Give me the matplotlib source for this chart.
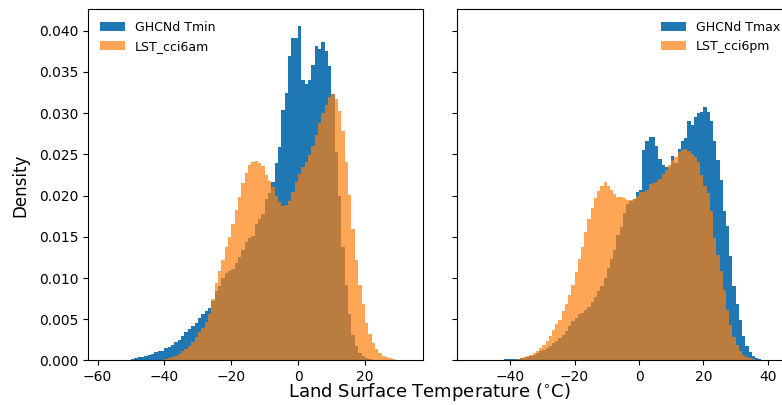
import numpy as np
import matplotlib
matplotlib.use('Agg')
import matplotlib.pyplot as plt

# densities per 1 degC bin
tmin_start = -52
tmin = [0.0001, 0.0001, 0.0002, 0.0003, 0.0004, 0.0004, 0.0006, 0.0007, 0.0008, 0.0010,
        0.0011, 0.0012, 0.0015, 0.0016, 0.0019, 0.0022, 0.0025, 0.0030, 0.0034, 0.0038,
        0.0042, 0.0046, 0.0051, 0.0056, 0.0060, 0.0064, 0.0072, 0.0084, 0.0090, 0.0100,
        0.0106, 0.0108, 0.0111, 0.0118, 0.0126, 0.0134, 0.0144, 0.0148, 0.0151, 0.0165,
        0.0172, 0.0178, 0.0196, 0.0203, 0.0216, 0.0239, 0.0259, 0.0304, 0.0324, 0.0369,
        0.0391, 0.0391, 0.0406, 0.0340, 0.0336, 0.0340, 0.0359, 0.0382, 0.0378, 0.0386,
        0.0376, 0.0357, 0.0323, 0.0253, 0.0200, 0.0138, 0.0092, 0.0056, 0.0031, 0.0017,
        0.0009, 0.0005, 0.0003, 0.0002, 0.0001]

lst_am_start = -42
lst_am = [0.0001, 0.0001, 0.0002, 0.0003, 0.0004, 0.0006, 0.0008, 0.0011, 0.0014, 0.0018,
          0.0023, 0.0028, 0.0034, 0.0040, 0.0047, 0.0056, 0.0075, 0.0094, 0.0108, 0.0122,
          0.0138, 0.0150, 0.0165, 0.0182, 0.0198, 0.0215, 0.0228, 0.0237, 0.0241, 0.0242,
          0.0240, 0.0236, 0.0225, 0.0218, 0.0210, 0.0200, 0.0192, 0.0188, 0.0189, 0.0193,
          0.0204, 0.0216, 0.0226, 0.0235, 0.0241, 0.0249, 0.0260, 0.0274, 0.0288, 0.0300,
          0.0310, 0.0320, 0.0323, 0.0317, 0.0303, 0.0278, 0.0241, 0.0201, 0.0160, 0.0122,
          0.0092, 0.0068, 0.0046, 0.0032, 0.0021, 0.0014, 0.0009, 0.0006, 0.0004, 0.0003,
          0.0002, 0.0001, 0.0001]

tmax_start = -42
tmax = [0.0002, 0.0002, 0.0002, 0.0002, 0.0002, 0.0003, 0.0003, 0.0004, 0.0005, 0.0007,
        0.0009, 0.0011, 0.0013, 0.0015, 0.0018, 0.0021, 0.0024, 0.0027, 0.0031, 0.0036,
        0.0042, 0.0048, 0.0052, 0.0056, 0.0058, 0.0061, 0.0065, 0.0071, 0.0077, 0.0084,
        0.0090, 0.0100, 0.0112, 0.0123, 0.0134, 0.0152, 0.0162, 0.0179, 0.0190, 0.0193,
        0.0196, 0.0204, 0.0207, 0.0255, 0.0266, 0.0271, 0.0271, 0.0260, 0.0245, 0.0237,
        0.0235, 0.0235, 0.0248, 0.0240, 0.0257, 0.0266, 0.0270, 0.0290, 0.0286, 0.0296,
        0.0300, 0.0301, 0.0308, 0.0301, 0.0290, 0.0266, 0.0243, 0.0219, 0.0181, 0.0163,
        0.0127, 0.0090, 0.0068, 0.0049, 0.0030, 0.0017, 0.0010, 0.0005, 0.0003, 0.0002,
        0.0001]

lst_pm_start = -39
lst_pm = [0.0001, 0.0002, 0.0003, 0.0004, 0.0005, 0.0007, 0.0009, 0.0012, 0.0015, 0.0019,
          0.0024, 0.0030, 0.0037, 0.0044, 0.0049, 0.0060, 0.0069, 0.0080, 0.0091, 0.0107,
          0.0123, 0.0138, 0.0156, 0.0172, 0.0185, 0.0197, 0.0206, 0.0212, 0.0216, 0.0212,
          0.0207, 0.0202, 0.0198, 0.0198, 0.0197, 0.0195, 0.0195, 0.0196, 0.0200, 0.0204,
          0.0205, 0.0207, 0.0214, 0.0215, 0.0216, 0.0220, 0.0226, 0.0231, 0.0237, 0.0243,
          0.0247, 0.0253, 0.0255, 0.0256, 0.0254, 0.0251, 0.0247, 0.0241, 0.0225, 0.0212,
          0.0203, 0.0181, 0.0148, 0.0128, 0.0108, 0.0086, 0.0061, 0.0043, 0.0029, 0.0019,
          0.0011, 0.0007, 0.0004, 0.0003, 0.0002, 0.0001, 0.0001, 0.0001]


def edges(start, vals):
    return np.arange(start, start + len(vals) + 1)


fig = plt.figure(figsize=(7.82, 4.05), dpi=100)
ax1 = fig.add_axes([0.1129, 0.1099, 0.4284, 0.867])
ax2 = fig.add_axes([0.584, 0.1099, 0.4284, 0.867], sharey=ax1)

b = edges(tmin_start, tmin)
ax1.hist(b[:-1], bins=b, weights=tmin, color='C0', label='GHCNd Tmin')
b = edges(lst_am_start, lst_am)
ax1.hist(b[:-1], bins=b, weights=lst_am, color='C1', alpha=0.7, label='LST_cci6am')

b = edges(tmax_start, tmax)
ax2.hist(b[:-1], bins=b, weights=tmax, color='C0', label='GHCNd Tmax')
b = edges(lst_pm_start, lst_pm)
ax2.hist(b[:-1], bins=b, weights=lst_pm, color='C1', alpha=0.7, label='LST_cci6pm')

ax1.set_xlim(-62.8, 37.5)
ax2.set_xlim(-56.6, 47.4)
ax1.set_ylim(0, 0.0426)
ax1.set_xticks([-60, -40, -20, 0, 20])
ax2.set_xticks([-40, -20, 0, 20, 40])
ax1.set_yticks(np.arange(0, 0.041, 0.005))
ax1.yaxis.set_major_formatter(matplotlib.ticker.FormatStrFormatter('%.3f'))
plt.setp(ax2.get_yticklabels(), visible=False)

ax1.set_ylabel('Density', fontsize=12, labelpad=7)
fig.text(0.549, 0.019, r'Land Surface Temperature ($^{\circ}$C)',
         ha='center', va='baseline', fontsize=13)

ax1.legend(loc='upper left', frameon=False, fontsize=9)
ax2.legend(loc='upper right', frameon=False, fontsize=9)

fig.savefig('out.png', dpi=100)
